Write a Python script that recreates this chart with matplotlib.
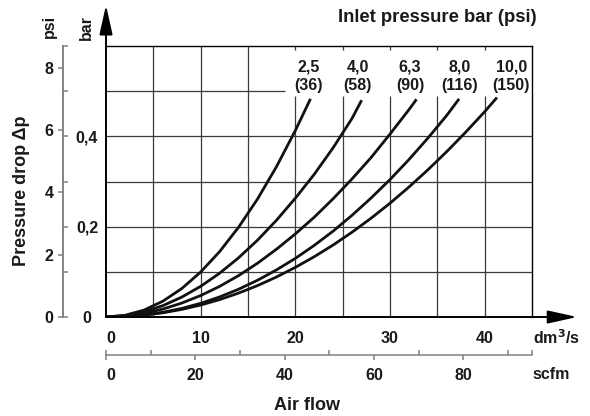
import matplotlib
matplotlib.use('Agg')
import matplotlib.pyplot as plt

plt.rcParams['font.family'] = ['Liberation Sans', 'DejaVu Sans']
plt.rcParams['font.weight'] = 'bold'

# ---------------- data ----------------
inlet_bar = ['2,5', '4,0', '6,3', '8,0', '10,0']
inlet_psi = ['36', '58', '90', '116', '150']

flow_25 = [0, 2, 4, 6, 8, 10, 12, 14, 16, 18, 20, 21.6]
drop_25 = [0, 0.0037, 0.0152, 0.0349, 0.0630, 0.0996, 0.1448, 0.1986, 0.2611, 0.3325, 0.4128, 0.483]

flow_40 = [0, 2, 4, 6, 8, 10, 12, 14, 16, 18, 20, 22, 24, 26, 27.0]
drop_40 = [0, 0.0029, 0.0114, 0.0251, 0.0440, 0.0679, 0.0969, 0.131, 0.170, 0.214, 0.263, 0.316,
           0.375, 0.440, 0.480]

flow_63 = [0, 2, 4, 6, 8, 10, 12, 14, 16, 18, 20, 22, 24, 26, 28, 30, 32, 32.8]
drop_63 = [0, 0.0021, 0.0079, 0.0175, 0.0308, 0.0475, 0.0678, 0.0916, 0.119, 0.150, 0.184, 0.221,
           0.262, 0.306, 0.353, 0.405, 0.459, 0.482]

flow_80 = [0, 2, 4, 6, 8, 10, 12, 14, 16, 18, 20, 22, 24, 26, 28, 30, 32, 34, 36, 37.3]
drop_80 = [0, 0.0010, 0.0044, 0.0104, 0.0190, 0.0303, 0.0444, 0.0614, 0.0813, 0.1042, 0.1298,
           0.1586, 0.1903, 0.2254, 0.2634, 0.3043, 0.3485, 0.396, 0.4465, 0.483]

flow_100 = [0, 2, 4, 6, 8, 10, 12, 14, 16, 18, 20, 22, 24, 26, 28, 30, 32, 34, 36, 38, 40, 41.3]
drop_100 = [0, 0.0010, 0.0040, 0.0093, 0.0168, 0.0265, 0.0385, 0.0529, 0.0695, 0.0885, 0.1099,
            0.1335, 0.1595, 0.1879, 0.2187, 0.2519, 0.2877, 0.3258, 0.3663, 0.4093, 0.4545, 0.486]

flows = [flow_25, flow_40, flow_63, flow_80, flow_100]
drops = [drop_25, drop_40, drop_63, drop_80, drop_100]

x_grid = [5, 10, 15, 20, 25, 30, 35, 40]
y_grid = [0.1, 0.2, 0.3, 0.4, 0.5]
x_ticks = [0, 10, 20, 30, 40]
scfm_major = [0, 20, 40, 60, 80]
scfm_minor = [10, 30, 50, 70, 90]
psi_ticks = [0, 2, 4, 6, 8]
bar_ticks = [0, 0.1, 0.2, 0.3, 0.4, 0.5, 0.6]
bar_tick_labels = ['0', '', '0,2', '', '0,4', '', '']

BAR_PER_PSI = 0.0689476
SCFM_PER_DM3S = 2.11888

# ---------------- layout ----------------
label_x = [21.4, 26.6, 32.1, 37.4, 42.8]
label_y = 0.533
grid_top = [0.6, 0.6, 0.6, 0.49, 0.49, 0.49, 0.49, 0.49]
hgrid_right = [45, 45, 45, 45, 18.9]

TXT = '#1a1a1a'
GREY = '#808080'
GRID = '#3a3a3a'

fig = plt.figure(figsize=(5.9, 4.16), dpi=100)
ax = fig.add_axes([106 / 590, 1 - 317 / 416, 426 / 590, 271 / 416])
ax.set_xlim(0, 45)
ax.set_ylim(0, 0.6)

# grid
ax.vlines(x_grid, 0, grid_top, colors=GRID, lw=0.9, zorder=1)
ax.vlines(x_grid[3:], 0.591, 0.6, colors=GRID, lw=0.9, zorder=1)
ax.hlines(y_grid, 0, hgrid_right, colors=GRID, lw=0.9, zorder=1)

# curves
for fx, dy in zip(flows, drops):
    ax.plot(fx, dy, color='#111111', lw=2.0, solid_capstyle='butt', solid_joinstyle='round', zorder=3)

for bx, b, p in zip(label_x, inlet_bar, inlet_psi):
    ax.text(bx, label_y, f'{b}\n({p})', ha='center', va='center', fontsize=11.5,
            fontweight='bold', color=TXT, linespacing=1.3, zorder=4)

# spines
for s in ['left', 'bottom']:
    ax.spines[s].set_visible(False)
for s in ['top', 'right']:
    ax.spines[s].set_color('black')
    ax.spines[s].set_linewidth(1.0)

arrow = dict(arrowstyle='-|>,head_length=1.8,head_width=0.4', color='black', lw=1.4,
             shrinkA=0, shrinkB=0, mutation_scale=10)
ax.annotate('', xy=(0, 1.151), xytext=(0, 0), xycoords='axes fraction',
            textcoords='axes fraction', arrowprops=arrow, annotation_clip=False)
ax.annotate('', xy=(1.106, 0), xytext=(0, 0), xycoords='axes fraction',
            textcoords='axes fraction', arrowprops=arrow, annotation_clip=False)

# main axis ticks
ax.set_xticks(x_ticks)
ax.set_xticklabels([str(v) for v in x_ticks])
ax.tick_params(axis='x', length=0, pad=10, labelsize=11.5, labelcolor=TXT)
ax.get_xticklabels()[0].set_ha('left')
ax.set_yticks([])

# secondary psi axis
sec_psi = ax.secondary_yaxis(-0.101, functions=(lambda b: b / BAR_PER_PSI, lambda p: p * BAR_PER_PSI))
sec_psi.set_yticks(psi_ticks)
sec_psi.set_yticklabels([str(v) for v in psi_ticks])
sec_psi.spines['left'].set_color(GREY)
sec_psi.spines['left'].set_linewidth(1.1)
sec_psi.tick_params(axis='y', direction='out', length=3.8, width=1.1, color=GREY, pad=3,
                    labelsize=11.5, labelcolor=TXT)

# secondary bar axis (ticks to the right of the same line)
sec_bar = ax.secondary_yaxis(-0.101)
sec_bar.set_alignment('right')
sec_bar.set_yticks(bar_ticks)
sec_bar.set_yticklabels(bar_tick_labels)
sec_bar.spines['right'].set_color(GREY)
sec_bar.spines['right'].set_linewidth(1.1)
sec_bar.tick_params(axis='y', direction='out', length=3.8, width=1.1, color=GREY, pad=13.5,
                    labelsize=11.5, labelcolor=TXT)
for lab in sec_bar.get_yticklabels():
    lab.set_ha('center')

# secondary scfm scale
sec_scfm = ax.secondary_xaxis(-0.140, functions=(lambda q: q * SCFM_PER_DM3S, lambda s: s / SCFM_PER_DM3S))
sec_scfm.set_xticks(scfm_major)
sec_scfm.set_xticklabels([str(v) for v in scfm_major])
sec_scfm.set_xticks(scfm_minor, minor=True)
sec_scfm.spines['bottom'].set_color(GREY)
sec_scfm.spines['bottom'].set_linewidth(1.1)
sec_scfm.tick_params(axis='x', which='major', direction='out', length=3.8, width=1.1, color=GREY,
                     pad=5.5, labelsize=11.5, labelcolor=TXT)
sec_scfm.tick_params(axis='x', which='minor', direction='in', length=3.8, width=1.1, color=GREY)
sec_scfm.get_xticklabels()[0].set_ha('left')

sec_end = ax.secondary_xaxis(-0.140)
sec_end.set_alignment('top')
sec_end.set_xticks([0, 45])
sec_end.set_xticklabels(['', ''])
sec_end.spines['top'].set_visible(False)
sec_end.tick_params(axis='x', direction='out', length=3.8, width=1.1, color=GREY)

# unit labels
ax.text(1.002, -0.077, 'dm$^3$/s', transform=ax.transAxes, ha='left', va='center',
        fontsize=11.5, fontweight='bold', color=TXT)
ax.text(1.002, -0.212, 'scfm', transform=ax.transAxes, ha='left', va='center',
        fontsize=11.5, fontweight='bold', color=TXT)

fig.text(49 / 590, 1 - 26 / 416, 'psi', rotation=90, ha='center', va='center',
         fontsize=11.5, fontweight='bold', color=TXT)
fig.text(86 / 590, 1 - 28 / 416, 'bar', rotation=90, ha='center', va='center',
         fontsize=11.5, fontweight='bold', color=TXT)

fig.text(22 / 590, 1 - 191 / 416, 'Pressure drop Δp', rotation=90, ha='center', va='center',
         fontsize=13, fontweight='bold', color=TXT)
fig.text(306.5 / 590, 1 - 405 / 416, 'Air flow', ha='center', va='center',
         fontsize=13, fontweight='bold', color=TXT)
fig.text(537 / 590, 1 - 22.5 / 416, 'Inlet pressure bar (psi)', ha='right', va='baseline',
         fontsize=13.3, fontweight='bold', color=TXT)

fig.savefig('out.png', dpi=100, facecolor='white')
